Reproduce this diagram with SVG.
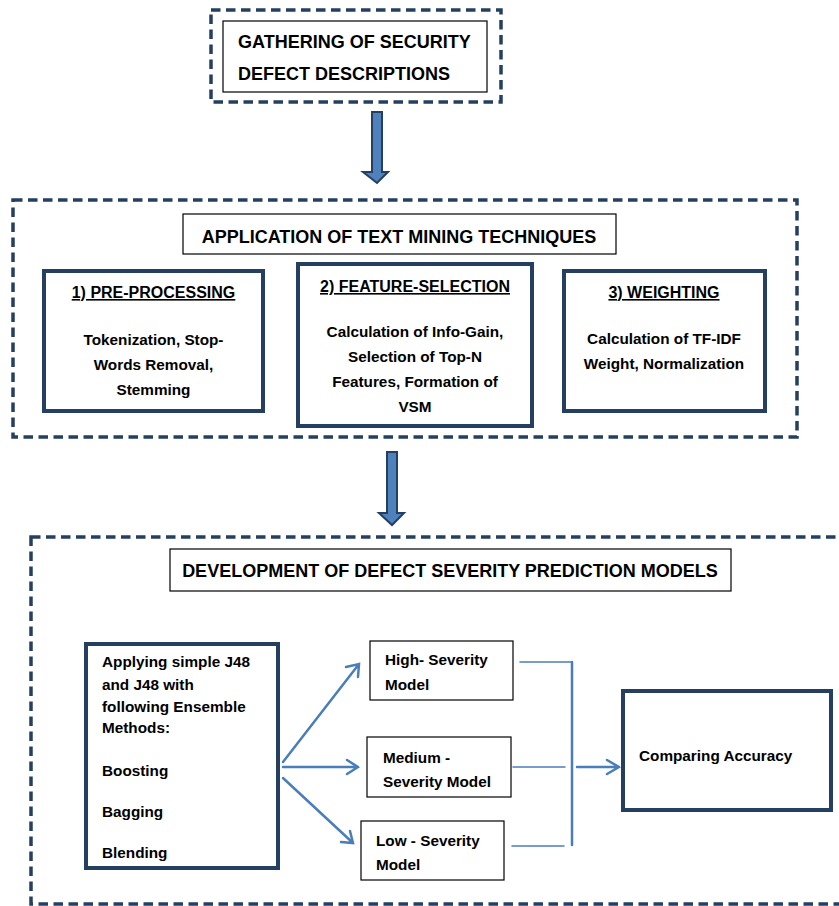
<svg xmlns="http://www.w3.org/2000/svg" width="839" height="906" viewBox="0 0 839 906">
<style>
.dash{fill:none;stroke:#243f60;stroke-width:3.5;stroke-dasharray:9.5 5.5}
.thin{fill:#fff;stroke:#000;stroke-width:1.2}
.thick{fill:#fff;stroke:#243f60;stroke-width:4}
text{font-family:"Liberation Sans",Arial,sans-serif;font-weight:bold;fill:#000}
.h{font-size:18px}
.t{font-size:16px;text-decoration:underline}
.b{font-size:15.3px}
.c{text-anchor:middle}
.bl{stroke:#4a7ebb;fill:none;stroke-linecap:round}
.big{fill:#4f81bd;stroke:#243f60;stroke-width:2}
</style>
<g id="gathering">
<rect class="dash" x="211" y="10" width="290" height="92"/>
<rect class="thin" x="223" y="21" width="264" height="71"/>
<text class="h" x="238" y="48">GATHERING OF SECURITY</text>
<text class="h" x="238" y="80">DEFECT DESCRIPTIONS</text>
</g>
<g id="textmining">
<rect class="dash" x="13" y="200" width="784" height="237"/>
<rect class="thin" x="183" y="214" width="433" height="40"/>
<text class="h c" x="399" y="243">APPLICATION OF TEXT MINING TECHNIQUES</text>
</g>
<g id="preprocessing">
<rect class="thick" x="44" y="271" width="219" height="140"/>
<text class="t c" x="153.5" y="298">1) PRE-PROCESSING</text>
<text class="b c" x="153.5" y="345">Tokenization, Stop-</text>
<text class="b c" x="153.5" y="370">Words Removal,</text>
<text class="b c" x="153.5" y="395">Stemming</text>
</g>
<g id="featureselection">
<rect class="thick" x="298" y="264" width="234" height="162"/>
<text class="t c" x="415" y="292">2) FEATURE-SELECTION</text>
<text class="b c" x="415" y="337">Calculation of Info-Gain,</text>
<text class="b c" x="415" y="362">Selection of Top-N</text>
<text class="b c" x="415" y="387">Features, Formation of</text>
<text class="b c" x="415" y="412">VSM</text>
</g>
<g id="weighting">
<rect class="thick" x="564" y="271" width="201" height="140"/>
<text class="t c" x="664" y="298">3) WEIGHTING</text>
<text class="b c" x="664" y="344">Calculation of TF-IDF</text>
<text class="b c" x="664" y="369">Weight, Normalization</text>
</g>
<g id="development">
<rect class="dash" x="31" y="537" width="830" height="367"/>
<rect class="thin" x="170" y="549" width="561" height="42"/>
<text class="h c" x="450" y="577">DEVELOPMENT OF DEFECT SEVERITY PREDICTION MODELS</text>
</g>
<g id="applying">
<rect class="thick" x="86" y="644" width="192" height="224"/>
<text class="b" x="102" y="667">Applying simple J48</text>
<text class="b" x="102" y="690">and J48 with</text>
<text class="b" x="102" y="712">following Ensemble</text>
<text class="b" x="102" y="733">Methods:</text>
<text class="b" x="102" y="776">Boosting</text>
<text class="b" x="102" y="817">Bagging</text>
<text class="b" x="102" y="858">Blending</text>
</g>
<g id="high">
<rect class="thin" x="370" y="641" width="143" height="59"/>
<text class="b" x="385" y="665">High- Severity</text>
<text class="b" x="385" y="690">Model</text>
</g>
<g id="medium">
<rect class="thin" x="367" y="737" width="144" height="60"/>
<text class="b" x="383" y="763">Medium -</text>
<text class="b" x="383" y="787">Severity Model</text>
</g>
<g id="low">
<rect class="thin" x="361" y="821" width="143" height="59"/>
<text class="b" x="376" y="846">Low - Severity</text>
<text class="b" x="376" y="870">Model</text>
</g>
<g id="comparing">
<rect class="thick" x="623" y="691" width="208" height="119"/>
<text class="b" x="639" y="761">Comparing Accuracy</text>
</g>
<g id="connectors">
<path class="big" d="M372,112 H382 V172 H388 L377,183 L363,172 H372 Z"/>
<path class="big" d="M387,452 H397 V513 H404 L392,525 L379,513 H387 Z"/>
<g class="bl" stroke-width="2.5">
<path d="M283,762 L359,664 M346,667 L359,664 L358,677"/>
<path d="M283,767 H358 M347,760 L358,767 L347,774"/>
<path d="M283,778 L353,843 M341,842 L353,843 L350,831"/>
<path d="M572,662 V845"/>
<path d="M577,767 H619 M607,760 L619,767 L607,774"/>
</g>
<g class="bl" stroke-width="1.5">
<path d="M520,662 H572 M513,767 H565 M512,846 H564"/>
</g>
</g>
</svg>
